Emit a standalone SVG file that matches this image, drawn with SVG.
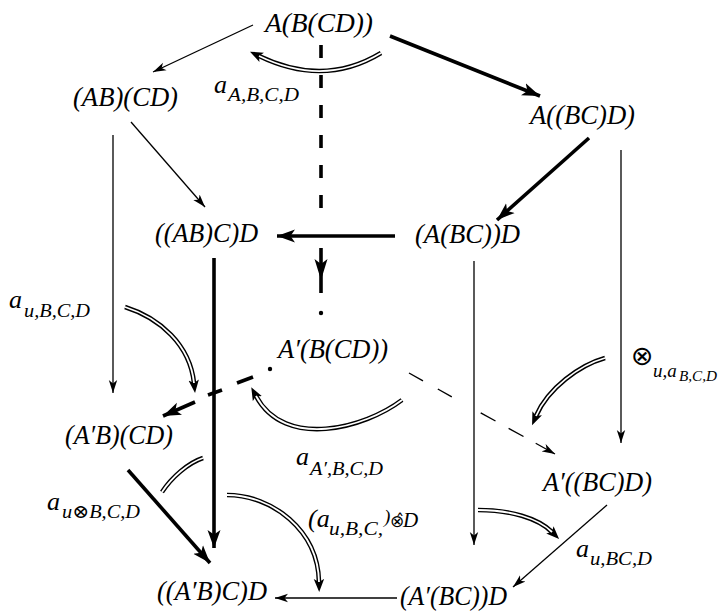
<svg xmlns="http://www.w3.org/2000/svg" width="718" height="613" viewBox="0 0 718 613">
<defs>
<style>
text{font-family:"Liberation Serif","DejaVu Serif",serif;font-style:italic;fill:#000}
.n{font-size:27px}
.a{font-size:26px}
.s{font-size:19px}
.ss{font-size:15px}
.op{font-family:"DejaVu Sans",sans-serif;font-style:normal}
.thin{stroke:#000;stroke-width:1.3;fill:none;marker-end:url(#ah)}
.thick{stroke:#000;stroke-width:3.6;fill:none;marker-end:url(#ahb)}
.tk{stroke:#000;stroke-width:3.6;fill:none}
.dsh{stroke:#000;stroke-width:1.4;fill:none}
.db{stroke:#000;stroke-width:4.6;fill:none}
.dbh{marker-end:url(#ahd)}
.dw{stroke:#fff;stroke-width:1.8;fill:none}
</style>
<marker id="ah" markerUnits="userSpaceOnUse" markerWidth="14" markerHeight="10" refX="13" refY="5" orient="auto"><path d="M0,0.8 L13,5 L0,9.2 L3.5,5 z" fill="#000"/></marker>
<marker id="ahb" markerUnits="userSpaceOnUse" markerWidth="19" markerHeight="14" refX="18" refY="7" orient="auto"><path d="M0,0.5 L18,7 L0,13.5 L4.5,7 z" fill="#000"/></marker>
<marker id="ahd" markerUnits="userSpaceOnUse" markerWidth="14" markerHeight="12" refX="3" refY="6" orient="auto"><path d="M0,0.8 L13,6 L0,11.2 L3,6 z" fill="#000"/></marker>
</defs>

<g id="connectors">
<path class="thin" d="M253,25 L153,72"/>
<path class="thin" d="M131,122 L205,207"/>
<path class="thin" d="M113,135 L113,393"/>
<path class="thin" d="M621,150 L621,443"/>
<path class="thin" d="M474,261 L474,545"/>
<path class="thin" d="M607,505 L513,587"/>
<path class="thin" d="M397,598 L275,598"/>
<path class="thick" d="M390,36 L540,96"/>
<path class="thick" d="M589,138 L497,220"/>
<path class="thick" d="M395,236 L277,236"/>
<path class="thick" d="M214,258 L214,548"/>
<path class="thick" d="M128,470 L210,563"/>
<path class="tk" d="M321,45 L321,220" stroke-dasharray="13 17"/>
<path class="tk" d="M321,248 L321,293"/>
<path d="M321,280 L314.5,259 L321,264 L327.5,259 z" fill="#000"/>
<circle cx="321" cy="313" r="2.2" fill="#000"/>
<circle cx="270" cy="369" r="2.2" fill="#000"/>
<path class="tk" d="M237,383 L253,377"/>
<path class="tk" d="M208,395 L222,390"/>
<path class="thick" d="M195,402 L163,416"/>
<path class="dsh" d="M409,373 L423,380.8 M437.8,389 L451.8,396.8 M480.7,412.8 L495.5,421 M508.6,428.3 L523.5,436.5"/>
<path class="thin" d="M535.7,443.3 L555,454"/>
<path class="db dbh" d="M381,53 Q324,87.5 259,56"/>
<path class="dw" d="M381,53 Q324,87.5 259,56"/>
<path class="db dbh" d="M125,307 C160,318 190,345 194,383"/>
<path class="dw" d="M125,307 C160,318 190,345 194,383"/>
<path class="db dbh" d="M402,400 C365,428 285,450 256,396"/>
<path class="dw" d="M402,400 C365,428 285,450 256,396"/>
<path class="db dbh" d="M605,358 C580,365 548,388 536,416"/>
<path class="dw" d="M605,358 C580,365 548,388 536,416"/>
<path class="db dbh" d="M478,510 C510,510 538,518 552,532"/>
<path class="dw" d="M478,510 C510,510 538,518 552,532"/>
<path class="db" d="M162,492 C172,477 188,463 203,458"/>
<path class="dw" d="M162,492 C172,477 188,463 203,458"/>
<path class="db dbh" d="M227,495 C272,495 318,530 319,582"/>
<path class="dw" d="M227,495 C272,495 318,530 319,582"/>
</g>

<g id="n1"><text class="n" x="265" y="32" textLength="108" lengthAdjust="spacingAndGlyphs">A(B(CD))</text></g>
<g id="n2"><text class="n" x="73" y="106" textLength="105" lengthAdjust="spacingAndGlyphs">(AB)(CD)</text></g>
<g id="n3"><text class="n" x="530" y="124" textLength="105" lengthAdjust="spacingAndGlyphs">A((BC)D)</text></g>
<g id="n4"><text class="n" x="155" y="242" textLength="103" lengthAdjust="spacingAndGlyphs">((AB)C)D</text></g>
<g id="n5"><text class="n" x="415" y="243" textLength="105" lengthAdjust="spacingAndGlyphs">(A(BC))D</text></g>
<g id="n6"><text class="n" x="278" y="358" textLength="110" lengthAdjust="spacingAndGlyphs">A′(B(CD))</text></g>
<g id="n7"><text class="n" x="65" y="444" textLength="108" lengthAdjust="spacingAndGlyphs">(A′B)(CD)</text></g>
<g id="n8"><text class="n" x="543" y="491" textLength="109" lengthAdjust="spacingAndGlyphs">A′((BC)D)</text></g>
<g id="n9"><text class="n" x="157" y="600" textLength="110" lengthAdjust="spacingAndGlyphs">((A′B)C)D</text></g>
<g id="n10"><text class="n" x="400" y="605" textLength="107" lengthAdjust="spacingAndGlyphs">(A′(BC))D</text></g>

<g id="labels">
<text class="a" x="214" y="93">a<tspan class="s" x="228" y="101" textLength="71" lengthAdjust="spacingAndGlyphs">A,B,C,D</tspan></text>

<text class="a" x="9" y="308">a<tspan class="s" x="24" y="317" textLength="66" lengthAdjust="spacingAndGlyphs">u,B,C,D</tspan></text>

<text class="op" x="631" y="365" style="font-size:27px">⊗<tspan class="s" style="font-family:'Liberation Serif',serif;font-style:italic" x="653" y="377">u,a</tspan><tspan class="ss" style="font-family:'Liberation Serif',serif;font-style:italic" x="679" y="381" textLength="38" lengthAdjust="spacingAndGlyphs">B,C,D</tspan></text>

<text class="a" x="296" y="465">a<tspan class="s" x="310" y="475" textLength="73" lengthAdjust="spacingAndGlyphs">A′,B,C,D</tspan></text>

<text class="a" x="308" y="527">(a<tspan class="s" x="329" y="535" textLength="54" lengthAdjust="spacingAndGlyphs">u,B,C,</tspan><tspan class="s" x="384" y="523">)</tspan><tspan class="op" style="font-size:17px" x="390" y="527">⊗̂</tspan><tspan style="font-size:21px" x="403" y="527">D</tspan></text>

<text class="a" x="47" y="510">a<tspan class="s" x="62" y="518" textLength="78" lengthAdjust="spacingAndGlyphs">u⊗B,C,D</tspan></text>

<text class="a" x="576" y="557">a<tspan class="s" x="590" y="565" textLength="62" lengthAdjust="spacingAndGlyphs">u,BC,D</tspan></text>
</g>
</svg>
